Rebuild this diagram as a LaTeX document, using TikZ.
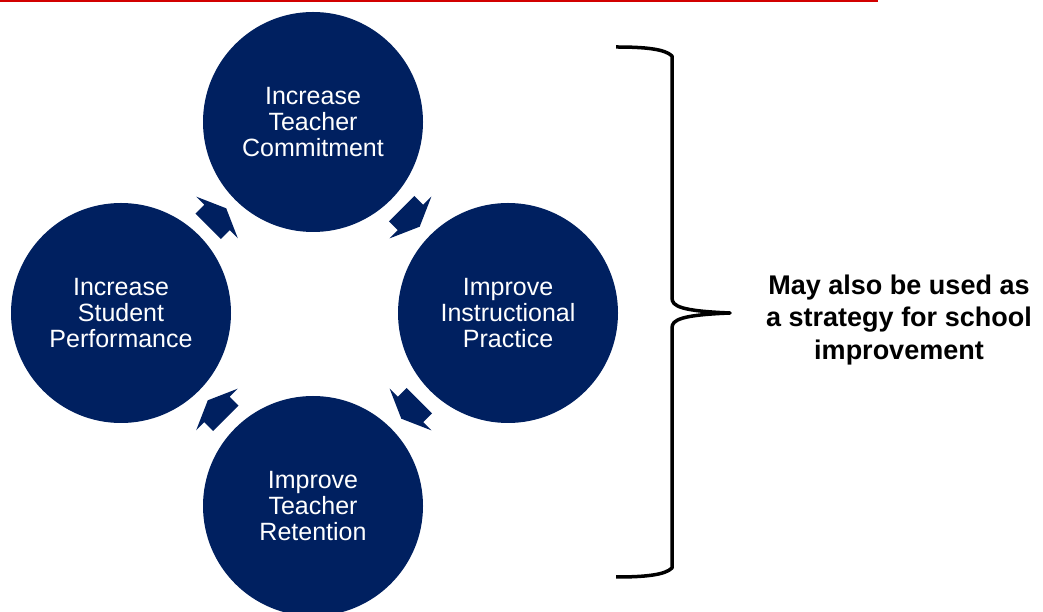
\documentclass[tikz,border=0pt]{standalone}
\usepackage{fontspec}
\setmainfont{Liberation Sans}
\usetikzlibrary{calc}
\definecolor{navy}{RGB}{0,32,96}
\definecolor{topred}{RGB}{210,0,0}
\begin{document}
\begin{tikzpicture}[x=1pt,y=1pt,
  stage/.style={circle, fill=navy, minimum size=220pt, inner sep=0pt, text=white, align=center, font=\fontsize{25}{26}\selectfont},
  cyclearrow/.style={fill=navy},
  bracket/.style={line width=3.5pt, line join=round},
  note/.style={align=center, font=\fontsize{27}{32.5}\selectfont\bfseries}]
\useasboundingbox (0,0) rectangle (1043,612);
\draw[topred, line width=2pt] (0,611) coordinate (r0) -- (878,611) coordinate (r1);

\node[stage] (top) at (313,490) {Increase\\Teacher\\Commitment};
\node[stage] (right) at (508,299) {Improve\\Instructional\\Practice};
\node[stage] (bottom) at (313,106) {Improve\\Teacher\\Retention};
\node[stage] (left) at (121,299) {Increase\\Student\\Performance};

\coordinate (m1) at ($(left)!0.5!(top)$);
\coordinate (m2) at ($(top)!0.5!(right)$);
\coordinate (m3) at ($(right)!0.5!(bottom)$);
\coordinate (m4) at ($(bottom)!0.5!(left)$);
\foreach \m/\a in {m1/45, m2/-45, m3/-135, m4/135}{
  \fill[cyclearrow, shift={(\m)}, rotate=\a] (13,0) -- (0,29.5) -- (0,18) -- (-12.5,18) -- (-12.5,-18) -- (0,-18) -- (0,-29.5) -- cycle;
}

\draw[bracket] (616,565) .. controls (645,565) and (665,563) .. (672,556) -- (672,314)
  .. controls (672,306) and (680,301) .. (730,299) coordinate (tip)
  .. controls (680,297) and (672,292) .. (672,284) -- (672,44)
  .. controls (665,37) and (645,35) .. (616,35);

\node[note] (note) at (899,292) {May also be used as\\a strategy for school\\improvement};
\end{tikzpicture}
\end{document}
